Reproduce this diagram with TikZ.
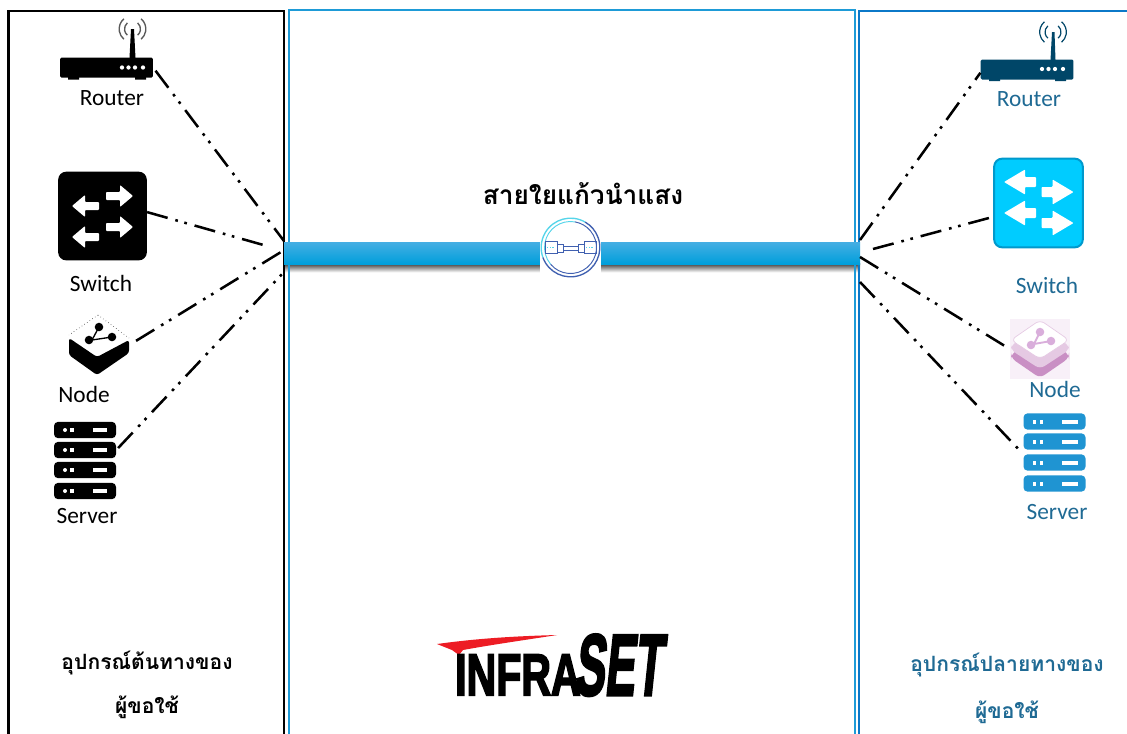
\documentclass[tikz,border=0pt]{standalone}
\usepackage{xcolor}
\usepackage{fontspec}
\setmainfont{Carlito}
\newfontfamily\thaifont[Script=Thai]{Loma}
\newfontfamily\logofont[FakeBold=3.5]{Liberation Sans Bold}
\definecolor{panelmid}{HTML}{1E9BD7}
\definecolor{panelright}{HTML}{0B78C8}
\definecolor{bartop}{HTML}{45AEE3}
\definecolor{barlow}{HTML}{009FDB}
\definecolor{routerblue}{HTML}{004668}
\definecolor{labelblue}{HTML}{1F6A94}
\definecolor{swblue}{HTML}{00CCFF}
\definecolor{swedge}{HTML}{0099CC}
\definecolor{srvblue}{HTML}{1F94D2}
\definecolor{logored}{HTML}{ED1C24}
\definecolor{ringcyan}{HTML}{55D5EA}
\definecolor{ringblue}{HTML}{4060B0}
\definecolor{pinkbg}{HTML}{F8F0F8}
\definecolor{pinkmid}{HTML}{E5C9E3}
\definecolor{pinklow}{HTML}{C98FC4}
\definecolor{pinkicon}{HTML}{D9AEDB}

\begin{document}
\begin{tikzpicture}[
    x=0.75pt, y=-0.75pt,
    panel/.style={line width=2.1pt},
    devlabel/.style={font=\fontsize{17.5}{19}\selectfont, inner sep=0pt},
    thailabel/.style={font=\thaifont\bfseries\fontsize{15.8}{17}\selectfont, inner sep=0pt},
    fiberline/.style={line width=1.9pt, dash pattern=on 16pt off 6pt on 2pt off 5pt on 2pt off 6pt},
    routerbox/.style={rectangle, minimum width=69.5pt, minimum height=15pt, rounded corners=1pt, inner sep=0pt},
    swbox/.style={rectangle, minimum size=66.5pt, rounded corners=6pt, inner sep=0pt},
    srvbox/.style={rectangle, minimum width=46.5pt, minimum height=12.2pt, rounded corners=3pt, inner sep=0pt},
    nodebox/.style={rectangle, minimum size=45pt, inner sep=0pt},
    logotext/.style={inner sep=0pt, anchor=base west, transform shape, font=\logofont}
]
    \useasboundingbox (0,0) rectangle (1127,733);
    \fill[white] (0,0) rectangle (1127,733);

    % shadow of the fiber goes under the panel lines
    \node[rectangle, minimum width=432pt, minimum height=6.5pt, inner sep=0pt, top color=black!75, bottom color=white] (fibershade) at (572,268) {};

    % panels
    \draw[panel, black] (8.5,11) rectangle (284,745);
    \draw[panel, panelmid] (289,10) rectangle (855,745);
    \draw[panel, panelright] (859,11) rectangle (1140,745);

    % fiber
    \node[rectangle, minimum width=432pt, minimum height=16.5pt, inner sep=0pt, top color=bartop, bottom color=barlow] (fiber) at (572,253) {};
    \node[rectangle, fill=white, minimum size=45.75pt, inner sep=0pt] (fibericon) at (570.5,247.5) {};
    \draw[line width=1pt, ringcyan] (fibericon.center) ++(60:22pt) arc[start angle=60, end angle=200, radius=22pt];
    \draw[line width=1pt, ringblue] (fibericon.center) ++(200:22pt) arc[start angle=200, end angle=420, radius=22pt];
    \draw[line width=.7pt, ringcyan] (fibericon.center) ++(80:19.5pt) arc[start angle=80, end angle=220, radius=19.5pt];
    \draw[line width=.7pt, ringblue] (fibericon.center) ++(220:19.5pt) arc[start angle=220, end angle=440, radius=19.5pt];
    \foreach \xa/\ya/\xb/\yb in {545/241/557/253, 557/244/563/252, 578/244/584/252, 584/241/596/253}
        \draw[line width=.6pt, ringblue] (\xa,\ya) rectangle (\xb,\yb);
    \draw[line width=.5pt, ringblue] (563,246) -- (578,246) (563,250) -- (578,250);
    \draw[line width=.5pt, ringcyan, dash pattern=on 1pt off 1pt] (547,247) -- (555,247) (586,247) -- (594,247);
    \node[font=\thaifont\bfseries\fontsize{19.7}{21}\selectfont, inner sep=0pt] (fibertitle) at (583,194) {สายใยแก้วนำแสง};

    % left side devices
    \node[routerbox, fill=black] (routerL) at (106.5,67.5) {};
    \fill[black] (68,76) rectangle (79,79.5) (135,76) rectangle (146,79.5);
    \fill[black] (129.5,58) -- (131,29) -- (134,29) -- (135.5,58) -- cycle;
    \foreach \r in {6,10} {
        \draw[black!65, line width=1pt] (132.5,29) ++(130:\r pt) arc[start angle=130, end angle=230, radius=\r pt];
        \draw[black!65, line width=1pt] (132.5,29) ++(50:\r pt) arc[start angle=50, end angle=-50, radius=\r pt];
    }
    \foreach \x in {122,128.5,135,143} \fill[white] (\x,67.5) circle[radius=1.6pt];
    \node[devlabel] (routerLlabel) at (112,98) {Router};

    \node[swbox, fill=black] (swL) at (102.5,216) {};
    \foreach \x/\y/\d in {119.5/196/1, 85.5/206/-1, 119.5/227/1, 85.5/237/-1}
        \fill[white, rounded corners=.6pt, shift={(\x,\y)}, xscale=\d] (-13.5,-4) -- (.5,-4) -- (.5,-11) -- (13.5,0) -- (.5,11) -- (.5,4) -- (-13.5,4) -- cycle;
    \node[devlabel] (swLlabel) at (101,283) {Switch};

    \node[nodebox] (nodeL) at (99,345) {};
    \fill[black, rounded corners=2pt] (69,338) -- (97,357) -- (129,340) -- (129,353) -- (97,375) -- (69,355) -- cycle;
    \draw[black, line width=.4pt, dotted] (98,315) -- (69,335) (98,315) -- (129,338);
    \fill[black] (99,327) circle[radius=3.2pt] (89,340) circle[radius=3.2pt] (112,337) circle[radius=3.2pt];
    \draw[black, line width=1pt] (99,327) -- (92,340) -- (112,337);
    \node[devlabel] (nodeLlabel) at (84,394) {Node};

    \foreach \n/\y in {1/430, 2/450, 3/470, 4/491} {
        \node[srvbox, fill=black] (srvL\n) at (85,\y) {};
        \fill[white] (65,\y) circle[radius=1.5pt];
        \fill[white] (69.5,\y-2) rectangle (73.5,\y+2);
        \fill[white] (93,\y-2.2) rectangle (107,\y+2.2);
    }
    \node[devlabel] (srvLlabel) at (87,516) {Server};

    % right side devices
    \node[routerbox, fill=routerblue] (routerR) at (1027,69.5) {};
    \fill[routerblue] (989,78) rectangle (1000,81) (1055,78) rectangle (1066,81);
    \fill[routerblue] (1050.5,60) -- (1052,32) -- (1054.5,32) -- (1055.5,60) -- cycle;
    \foreach \r in {6,10} {
        \draw[routerblue, line width=.9pt] (1053,32) ++(130:\r pt) arc[start angle=130, end angle=230, radius=\r pt];
        \draw[routerblue, line width=.9pt] (1053,32) ++(50:\r pt) arc[start angle=50, end angle=-50, radius=\r pt];
    }
    \foreach \x in {1042,1048.5,1055,1063} \fill[white] (\x,69) circle[radius=1.6pt];
    \node[devlabel, text=labelblue] (routerRlabel) at (1029,99) {Router};

    \node[swbox, fill=swblue, draw=swedge, line width=1.5pt] (swR) at (1038.5,203) {};
    \foreach \x/\y/\d in {1020/182/-1, 1057.5/192/1, 1020/213/-1, 1057.5/223/1}
        \fill[white, rounded corners=.6pt, shift={(\x,\y)}, xscale=\d] (-16,-5) -- (-5,-5) -- (-5,-12.5) -- (16,0) -- (-5,12.5) -- (-5,5) -- (-16,5) -- cycle;
    \node[devlabel, text=labelblue] (swRlabel) at (1047,285) {Switch};

    \node[nodebox, fill=pinkbg] (nodeR) at (1040,349) {};
    \fill[pinklow, rounded corners=4pt] (1011,354) -- (1040,338) -- (1069,354) -- (1069,358) -- (1040,378) -- (1011,358) -- cycle;
    \fill[pinkmid, rounded corners=4pt] (1011,345) -- (1040,330) -- (1069,345) -- (1069,350) -- (1040,369) -- (1011,350) -- cycle;
    \draw[fill=white, draw=pinkmid, line width=.5pt, rounded corners=4pt] (1040,320) -- (1069,340) -- (1040,359) -- (1011,340) -- cycle;
    \fill[pinkicon] (1040,332) circle[radius=3.2pt] (1031,345) circle[radius=3.2pt] (1051,341) circle[radius=3.2pt];
    \draw[pinkicon, line width=1.4pt] (1040,332) -- (1034,344) -- (1051,341);
    \node[devlabel, text=labelblue] (nodeRlabel) at (1055,389) {Node};

    \foreach \n/\y in {1/421.5, 2/441.5, 3/462.5, 4/483.5} {
        \node[srvbox, fill=srvblue] (srvR\n) at (1054.5,\y) {};
        \fill[white] (1032.5,\y-2) rectangle (1036,\y+2);
        \fill[white] (1039.5,\y-2) rectangle (1043,\y+2);
        \fill[white] (1062,\y-2) rectangle (1078,\y+2);
    }
    \node[devlabel, text=labelblue] (srvRlabel) at (1057,512) {Server};

    % hub ends on the fiber
    \coordinate (hubA) at (284,241);
    \coordinate (hubB) at (267,246);
    \coordinate (hubC) at (281,252);
    \coordinate (hubD) at (284,272);
    \coordinate (hubE) at (860,240);
    \coordinate (hubF) at (873,249);
    \coordinate (hubG) at (860,257);
    \coordinate (hubH) at (860,282);

    \draw[fiberline, shorten <=3pt] (routerL.east) -- (hubA);
    \draw[fiberline] (swL.5) -- (hubB);
    \draw[fiberline, shorten <=6pt] (nodeL.east) -- (hubC);
    \draw[fiberline, shorten <=2pt] (srvL2.east) -- (hubD);
    \draw[fiberline] (hubE) -- (routerR.184);
    \draw[fiberline, shorten >=1pt] (hubF) -- (swR.197);
    \draw[fiberline, shorten >=5pt] (hubG) -- (nodeR.west);
    \draw[fiberline, shorten >=2pt] (hubH) -- (srvR3.north west);

    % logo
    \fill[logored] (437,644) .. controls (480,638) and (520,636) .. (557,635) .. controls (525,640) and (490,645) .. (463,650) -- (459,655) -- (452,650) -- cycle;
    \node[logotext, xscale=.7] (logoInfra) at (455,695) {\fontsize{44}{44}\selectfont INFRA};
    \node[logotext, xscale=.52, xslant=.2] (logoSet) at (574,695) {\fontsize{65}{65}\selectfont SET};

    % bottom captions
    \node[thailabel] (captionLa) at (147,663) {อุปกรณ์ต้นทางของ};
    \node[thailabel] (captionLb) at (147,707) {ผู้ขอใช้};
    \node[thailabel, text=labelblue] (captionRa) at (1007,665) {อุปกรณ์ปลายทางของ};
    \node[thailabel, text=labelblue] (captionRb) at (1007,712) {ผู้ขอใช้};
\end{tikzpicture}
\end{document}
